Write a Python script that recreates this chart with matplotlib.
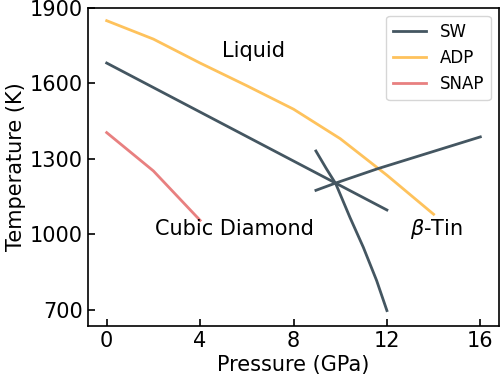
import matplotlib
matplotlib.use("Agg")
import matplotlib.pyplot as plt

sw_liq_p = [0, 12]
sw_liq_t = [1680, 1097]
sw_dt_p = [8.96, 9.4, 9.81, 10.42, 10.99, 11.56, 12.0]
sw_dt_t = [1331, 1262, 1201, 1067, 949, 817, 698]
sw_tl_p = [8.96, 9.81, 11.58, 16.0]
sw_tl_t = [1175, 1204, 1260, 1387]
adp_p = [0, 2, 4, 6, 8, 10, 12, 14]
adp_t = [1848, 1775, 1680, 1590, 1497, 1380, 1235, 1080]
snap_p = [0, 2, 4]
snap_t = [1404, 1252, 1056]

c_sw = "#445661"
c_adp = "#fec25c"
c_snap = "#e88080"

fig = plt.figure(figsize=(5, 3.79), dpi=100)
ax = fig.add_axes([0.176, 0.140, 0.822, 0.840])
lw = 2.0
ax.plot(sw_liq_p, sw_liq_t, color=c_sw, lw=lw, label="SW")
ax.plot(adp_p, adp_t, color=c_adp, lw=lw, label="ADP")
ax.plot(snap_p, snap_t, color=c_snap, lw=lw, label="SNAP")
ax.plot(sw_dt_p, sw_dt_t, color=c_sw, lw=lw)
ax.plot(sw_tl_p, sw_tl_t, color=c_sw, lw=lw)

ax.set_xlim(-0.8, 16.8)
ax.set_ylim(637, 1900)
ax.set_xticks([0, 4, 8, 12, 16])
ax.set_yticks([700, 1000, 1300, 1600, 1900])
ax.tick_params(direction="in", labelsize=15, length=5, width=1.2)
for s in ax.spines.values():
    s.set_linewidth(1.2)
ax.set_xlabel("Pressure (GPa)", fontsize=15, labelpad=3)
ax.set_ylabel("Temperature (K)", fontsize=15, labelpad=3)

ax.text(6.3, 1726, "Liquid", fontsize=15, ha="center", va="center")
ax.text(5.45, 1023, "Cubic Diamond", fontsize=15, ha="center", va="center")
ax.text(14.1, 1023, r"$\beta$-Tin", fontsize=15, ha="center", va="center")

ax.legend(loc="upper right", fontsize=12, handlelength=2.0)
fig.savefig("out.png", dpi=100)
